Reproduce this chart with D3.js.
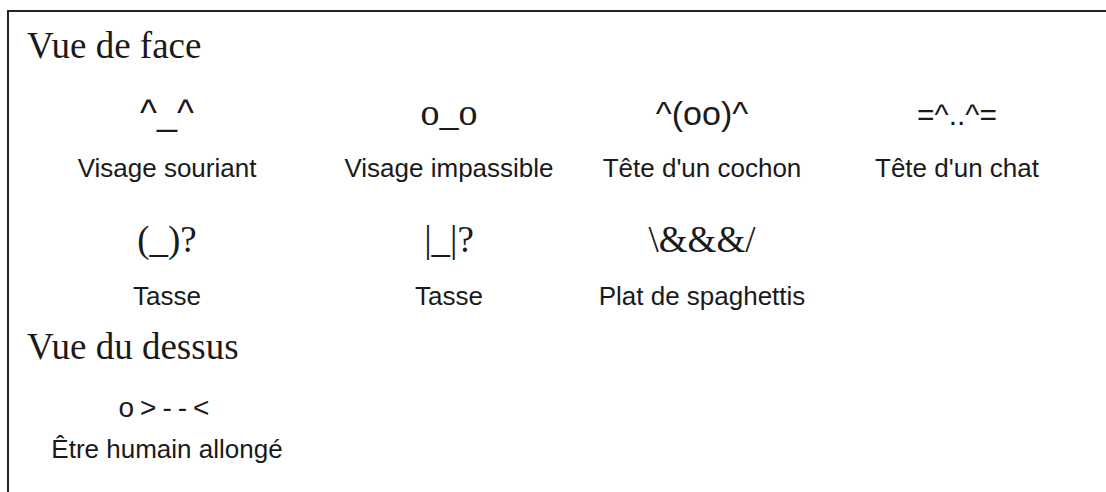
<!DOCTYPE html>
<html>
<head>
<meta charset="utf-8">
<script src="https://cdn.jsdelivr.net/npm/d3@7"></script>
<style>
  html, body { margin: 0; padding: 0; background: #fff; }
  svg { display: block; }
</style>
</head>
<body>
<svg id="fig" width="1106" height="492"></svg>
<script>
// ---- content ----
const sectionTitles = ["Vue de face", "Vue du dessus"];
const emoticons = ["^_^", "o_o", "^(oo)^", "=^..^=", "(_)?", "|_|?", "\\&&&/", "o>--<"];
const labels = ["Visage souriant", "Visage impassible", "Tête d'un cochon", "Tête d'un chat",
                "Tasse", "Tasse", "Plat de spaghettis", "Être humain allongé"];
const itemColumn = [0, 1, 2, 3, 0, 1, 2, 0];
const itemRow = [0, 0, 0, 0, 1, 1, 1, 2];

// ---- layout (scales) ----
const W = 1106, H = 492;
const svg = d3.select("#fig");
const xCol = d3.scaleOrdinal().domain([0, 1, 2, 3]).range([167, 449, 702, 957]);
const yGlyph = d3.scaleOrdinal().domain([0, 1, 2]).range([125, 252, 417]);
const yLabel = d3.scaleOrdinal().domain([0, 1, 2]).range([177, 305, 458]);
const ySection = d3.scaleOrdinal().domain([0, 1]).range([58, 359]);

// glyph styles
const serif = "'Liberation Serif', 'Times New Roman', serif";
const sans = "'Liberation Sans', Arial, sans-serif";
const glyphStyle = {
  "^_^":    { f: sans,  s: 36, ls: 0 },
  "o_o":    { f: serif, s: 38, ls: 0 },
  "^(oo)^": { f: sans,  s: 34, ls: 0 },
  "=^..^=": { f: sans,  s: 30, ls: 0 },
  "(_)?":   { f: serif, s: 37, ls: 0 },
  "|_|?":   { f: serif, s: 37, ls: 0 },
  "\\&&&/": { f: serif, s: 37, ls: 0 },
  "o>--<":  { f: sans,  s: 28, ls: 6 }
};
const ink = "#1a1a1a";

// frame: top and left rules
svg.append("line").attr("x1", 7).attr("x2", W).attr("y1", 11).attr("y2", 11)
  .attr("stroke", "#222").attr("stroke-width", 2);
svg.append("line").attr("x1", 8).attr("x2", 8).attr("y1", 10).attr("y2", H)
  .attr("stroke", "#222").attr("stroke-width", 2);

// section titles
svg.selectAll("text.section").data(sectionTitles).join("text")
  .attr("class", "section")
  .attr("x", 27)
  .attr("y", (d, i) => ySection(i))
  .attr("font-family", serif)
  .attr("font-size", 37)
  .attr("fill", ink)
  .text(d => d);

const items = emoticons.map((e, i) => ({ e, label: labels[i], col: itemColumn[i], row: itemRow[i] }));

svg.selectAll("text.glyph").data(items).join("text")
  .attr("class", "glyph")
  .attr("x", d => xCol(d.col))
  .attr("y", d => yGlyph(d.row))
  .attr("text-anchor", "middle")
  .attr("font-family", d => glyphStyle[d.e].f)
  .attr("font-size", d => glyphStyle[d.e].s)
  .attr("letter-spacing", d => glyphStyle[d.e].ls)
  .attr("fill", ink)
  .text(d => d.e);

svg.selectAll("text.label").data(items).join("text")
  .attr("class", "label")
  .attr("x", d => xCol(d.col))
  .attr("y", d => yLabel(d.row))
  .attr("text-anchor", "middle")
  .attr("font-family", sans)
  .attr("font-size", 26)
  .attr("fill", ink)
  .text(d => d.label);
</script>
</body>
</html>
